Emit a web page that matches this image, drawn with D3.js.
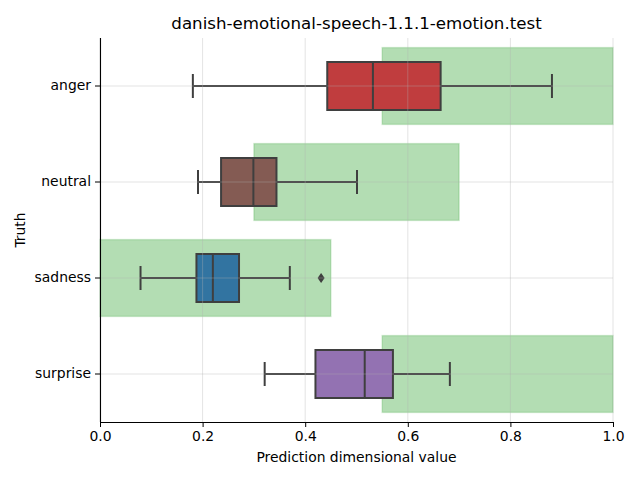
<!DOCTYPE html>
<html><head><meta charset="utf-8">
<script src="https://cdn.jsdelivr.net/npm/d3@7"></script>
<style>body{margin:0;background:#fff}svg{display:block}text{font-family:"DejaVu Sans",sans-serif;fill:#000}</style>
</head><body>
<svg id="c" width="640" height="480"></svg>
<script>
const categories = ["anger", "neutral", "sadness", "surprise"];
const whiskerLow = [0.181, 0.191, 0.079, 0.321];
const q1 = [0.443, 0.236, 0.188, 0.420];
const median = [0.532, 0.299, 0.220, 0.516];
const q3 = [0.664, 0.344, 0.271, 0.571];
const whiskerHigh = [0.881, 0.501, 0.370, 0.682];
const outliers = [[], [], [0.431], []];
const rangeLow = [0.55, 0.30, 0.00, 0.55];
const rangeHigh = [1.00, 0.70, 0.45, 1.00];
const colors = ["#c03d3e", "#845b53", "#3274a1", "#9372b2"];
const xTicks = [0, 0.2, 0.4, 0.6, 0.8, 1.0];

const svg = d3.select("#c");
const L = 100, R = 613, T = 38, B = 422;
const x = d3.scaleLinear().domain([0, 1]).range([L, R]);
const y = d3.scaleBand().domain(categories).range([T, B]);
const bw = y.bandwidth();
const lineCol = "#3f3f3f";

// green expected ranges
const g = svg.append("g");
categories.forEach((c, i) => {
  const cy = y(c) + bw / 2;
  g.append("rect")
    .attr("x", x(rangeLow[i])).attr("y", cy - bw * 0.4)
    .attr("width", x(rangeHigh[i]) - x(rangeLow[i])).attr("height", bw * 0.8)
    .attr("fill", "#2ca02c").attr("fill-opacity", 0.36)
    .attr("stroke", "#2ca02c").attr("stroke-opacity", 0.2).attr("stroke-width", 1.5);
});

// boxes
categories.forEach((c, i) => {
  const cy = y(c) + bw / 2;
  const h = bw * 0.5;
  const bg = svg.append("g").attr("stroke", lineCol).attr("stroke-width", 2).attr("fill", "none");
  bg.append("line").attr("x1", x(whiskerLow[i])).attr("x2", x(q1[i])).attr("y1", cy).attr("y2", cy);
  bg.append("line").attr("x1", x(q3[i])).attr("x2", x(whiskerHigh[i])).attr("y1", cy).attr("y2", cy);
  bg.append("line").attr("x1", x(whiskerLow[i])).attr("x2", x(whiskerLow[i])).attr("y1", cy - h / 4).attr("y2", cy + h / 4);
  bg.append("line").attr("x1", x(whiskerHigh[i])).attr("x2", x(whiskerHigh[i])).attr("y1", cy - h / 4).attr("y2", cy + h / 4);
  bg.append("rect").attr("x", x(q1[i])).attr("y", cy - h / 2)
    .attr("width", x(q3[i]) - x(q1[i])).attr("height", h).attr("fill", colors[i]);
  bg.append("line").attr("x1", x(median[i])).attr("x2", x(median[i])).attr("y1", cy - h / 2).attr("y2", cy + h / 2);
  outliers[i].forEach(v => {
    const px = x(v);
    svg.append("path").attr("d", `M${px},${cy - 5}L${px + 3.5},${cy}L${px},${cy + 5}L${px - 3.5},${cy}Z`)
      .attr("fill", lineCol);
  });
});

// grid on top
const grid = svg.append("g").attr("stroke", "#b0b0b0").attr("stroke-opacity", 0.45).attr("stroke-width", 0.8);
xTicks.forEach(t => grid.append("line").attr("x1", x(t)).attr("x2", x(t)).attr("y1", T).attr("y2", B));
categories.forEach(c => grid.append("line").attr("x1", L).attr("x2", R).attr("y1", y(c) + bw / 2).attr("y2", y(c) + bw / 2));

// axes
const xAxis = svg.append("g").attr("transform", `translate(0,${B})`)
  .call(d3.axisBottom(x).tickValues(xTicks).tickFormat(d3.format(".1f")).tickSize(5).tickPadding(4));
const yAxis = svg.append("g").attr("transform", `translate(${L},0)`)
  .call(d3.axisLeft(y).tickSize(5).tickPadding(4));
[xAxis, yAxis].forEach(a => {
  a.selectAll("text").style("font-size", "13.9px").style("font-family", "DejaVu Sans").attr("fill", "#000");
  a.selectAll("line").attr("stroke", "#000").attr("stroke-width", 1);
  a.select(".domain").attr("stroke", "#000").attr("stroke-width", 1.1);
});
xAxis.select(".domain").attr("d", `M${L},0.5H${R}`);
yAxis.select(".domain").attr("d", `M0.5,${T}V${B}`);

svg.append("text").attr("x", (L + R) / 2).attr("y", 29).attr("text-anchor", "middle")
  .style("font-size", "16.67px").text("danish-emotional-speech-1.1.1-emotion.test");
svg.append("text").attr("x", (L + R) / 2).attr("y", 462).attr("text-anchor", "middle")
  .style("font-size", "13.9px").text("Prediction dimensional value");
svg.append("text").attr("transform", `translate(25,${(T + B) / 2}) rotate(-90)`).attr("text-anchor", "middle")
  .style("font-size", "13.9px").text("Truth");
</script>
</body></html>
